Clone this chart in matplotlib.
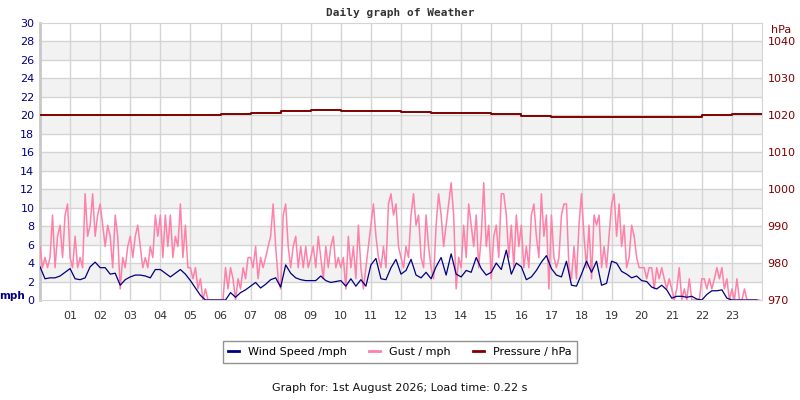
import numpy as np
import matplotlib
matplotlib.use('Agg')
import matplotlib.pyplot as plt
from matplotlib.lines import Line2D

# 10-minute wind speed (mph), one row per hour
wind_speed = [
    3.6, 2.3, 2.4, 2.4, 2.6, 3.0,
    3.4, 2.3, 2.2, 2.4, 3.6, 4.1,
    3.5, 3.5, 2.8, 2.9, 1.6, 2.2,
    2.5, 2.7, 2.7, 2.6, 2.4, 3.3,
    3.3, 2.9, 2.5, 2.9, 3.3, 2.8,
    2.1, 1.3, 0.5, 0.0, 0.0, 0.0,
    0.0, 0.0, 0.8, 0.3, 0.8, 1.1,
    1.5, 1.9, 1.3, 1.7, 2.2, 2.4,
    1.4, 3.8, 2.9, 2.4, 2.2, 2.1,
    2.1, 2.1, 2.6, 2.1, 1.9, 2.0,
    2.1, 1.5, 2.3, 1.5, 2.2, 1.5,
    3.8, 4.5, 2.3, 2.2, 3.5, 4.4,
    2.8, 3.2, 4.4, 2.7, 2.4, 3.0,
    2.3, 3.6, 4.6, 2.7, 5.0, 2.8,
    2.5, 3.2, 3.0, 4.6, 3.4, 2.7,
    3.0, 4.0, 3.3, 5.4, 2.8, 4.0,
    3.6, 2.2, 2.5, 3.2, 4.1, 4.8,
    3.4, 2.7, 2.5, 4.2, 1.6, 1.5,
    2.8, 4.2, 3.0, 4.2, 1.6, 1.8,
    4.2, 4.0, 3.1, 2.8, 2.4, 2.6,
    2.1, 2.0, 1.4, 1.2, 1.6, 1.1,
    0.2, 0.4, 0.4, 0.3, 0.4, 0.1,
    0.0, 0.6, 1.0, 1.0, 1.1, 0.2,
    0.0, 0.0, 0.0, 0.0, 0.0, 0.0,
]

# 5-minute gust (mph), one row per hour
gust = [
    5.8, 3.5, 4.6, 3.5, 4.6, 9.2, 3.5, 6.9, 8.1, 4.6, 9.2, 10.4,
    4.6, 3.5, 6.9, 3.5, 4.6, 3.5, 11.5, 6.9, 8.1, 11.5, 6.9, 9.2,
    10.4, 8.1, 5.8, 8.1, 6.9, 3.5, 9.2, 6.9, 1.2, 4.6, 3.5, 5.8,
    6.9, 4.6, 6.9, 8.1, 5.8, 3.5, 4.6, 3.5, 5.8, 4.6, 9.2, 6.9,
    9.2, 4.6, 9.2, 5.8, 9.2, 4.6, 6.9, 5.8, 10.4, 4.6, 8.1, 3.5,
    3.5, 2.3, 3.5, 1.2, 2.3, 0.0, 1.2, 0.0, 0.0, 0.0, 0.0, 0.0,
    0.0, 0.0, 3.5, 1.2, 3.5, 2.3, 0.0, 2.3, 1.2, 3.5, 2.3, 4.6,
    4.6, 3.5, 5.8, 2.3, 4.6, 3.5, 4.6, 5.8, 6.9, 10.4, 5.8, 2.3,
    1.2, 9.2, 10.4, 5.8, 3.5, 5.8, 6.9, 3.5, 5.8, 3.5, 5.8, 3.5,
    4.6, 5.8, 3.5, 6.9, 4.6, 2.3, 5.8, 3.5, 5.8, 6.9, 3.5, 4.6,
    3.5, 4.6, 1.2, 6.9, 3.5, 5.8, 2.3, 8.1, 3.5, 1.2, 3.5, 5.8,
    8.1, 10.4, 6.9, 4.6, 3.5, 5.8, 3.5, 10.4, 11.5, 9.2, 10.4, 5.8,
    4.6, 3.5, 5.8, 4.6, 9.2, 11.5, 8.1, 9.2, 4.6, 3.5, 9.2, 5.8,
    3.5, 2.3, 8.1, 11.5, 9.2, 5.8, 8.1, 10.4, 12.7, 9.2, 1.2, 4.6,
    3.5, 8.1, 4.6, 10.4, 8.1, 5.8, 9.2, 3.5, 6.9, 12.7, 5.8, 8.1,
    2.3, 6.9, 8.1, 4.6, 11.5, 11.5, 9.2, 4.6, 8.1, 3.5, 9.2, 5.8,
    8.1, 3.5, 5.8, 3.5, 9.2, 10.4, 6.9, 4.6, 11.5, 6.9, 9.2, 1.2,
    9.2, 4.6, 3.5, 4.6, 9.2, 10.4, 10.4, 3.5, 2.3, 5.8, 2.3, 8.1,
    11.5, 6.9, 3.5, 8.1, 2.3, 9.2, 8.1, 9.2, 3.5, 5.8, 3.5, 6.9,
    10.4, 11.5, 6.9, 10.4, 5.8, 8.1, 3.5, 4.6, 8.1, 6.9, 4.6, 3.5,
    3.5, 3.5, 2.3, 3.5, 3.5, 1.2, 3.5, 2.3, 3.5, 2.3, 1.2, 2.3,
    1.2, 0.0, 1.2, 3.5, 0.0, 1.2, 0.0, 2.3, 0.0, 0.0, 0.0, 0.0,
    2.3, 2.3, 1.2, 2.3, 1.2, 2.3, 3.5, 2.3, 3.5, 1.2, 2.3, 0.0,
    1.2, 0.0, 2.3, 0.0, 0.0, 1.2, 0.0, 0.0, 0.0, 0.0, 0.0, 0.0,
]

# hourly pressure (hPa), last value repeated to close the day
pressure = [1020.2, 1020.2, 1020.2, 1020.2, 1020.2, 1020.1, 1020.3, 1020.7,
            1021.3, 1021.4, 1021.3, 1021.1, 1021.0, 1020.7, 1020.6, 1020.3,
            1019.9, 1019.6, 1019.5, 1019.5, 1019.5, 1019.5, 1020.1, 1020.4,
            1020.4]

hour_labels = ['%02d' % h for h in range(1, 24)]
mph_ticks = list(range(0, 31, 2))
hpa_ticks = list(range(970, 1041, 10))

NAVY = '#000080'
PINK = '#ff80a8'
DARKRED = '#800000'
GRID = '#d4d4d4'

wind_t = np.arange(len(wind_speed)) / 6.0
gust_t = np.arange(len(gust)) / 12.0
pres_t = np.arange(len(pressure))

fig = plt.figure(figsize=(8, 4), dpi=100)
ax = fig.add_axes([40 / 800, 1 - 300 / 400, 722 / 800, 277 / 400])

# alternating grey bands every other 2 mph
for lo in range(2, 30, 4):
    ax.axhspan(lo, lo + 2, color='#f2f2f2', zorder=0, lw=0)
for y in mph_ticks[1:-1]:
    ax.axhline(y, color=GRID, lw=1, zorder=1)
for h in range(1, 24):
    ax.axvline(h, color=GRID, lw=1, zorder=1)

ax.plot(gust_t, gust, color=PINK, lw=1.1, zorder=3)
ax.plot(wind_t, wind_speed, color=NAVY, lw=0.9, zorder=4)

ax.set_xlim(0, 24)
ax.set_ylim(0, 30)
ax.set_yticks(mph_ticks)
ax.set_xticks(range(1, 24))
ax.set_xticklabels(hour_labels)
ax.tick_params(axis='y', length=0, labelsize=8, labelcolor=NAVY, pad=4)
ax.tick_params(axis='x', length=0, labelsize=8, labelcolor='#333333', pad=8)
for s in ['top', 'right', 'bottom']:
    ax.spines[s].set_color(GRID)
ax.spines['left'].set_color('#c8c8c8')
ax.spines['left'].set_linewidth(2)

ax2 = ax.twinx()
ax2.step(pres_t, pressure, where='post', color=DARKRED, lw=1.4, zorder=5)
ax2.set_ylim(970, 1045)
ax2.set_yticks(hpa_ticks)
ax2.tick_params(axis='y', length=0, labelsize=8, labelcolor=DARKRED, pad=4)
for s in ax2.spines.values():
    s.set_visible(False)

fig.text(400 / 800, 1 - 13 / 400, 'Daily graph of Weather', ha='center', va='center',
         family='DejaVu Sans Mono', weight='bold', fontsize=8, color='#333333')
fig.text(12 / 800, 1 - 296 / 400, 'mph', ha='center', va='center',
         weight='bold', fontsize=7.5, color=NAVY)
fig.text(781 / 800, 1 - 30 / 400, 'hPa', ha='center', va='center',
         fontsize=8, color=DARKRED)

handles = [Line2D([], [], color=NAVY, lw=2),
           Line2D([], [], color=PINK, lw=2),
           Line2D([], [], color=DARKRED, lw=2)]
leg = fig.legend(handles, ['Wind Speed /mph', 'Gust / mph', 'Pressure / hPa'],
                 loc='center', bbox_to_anchor=(400 / 800, 1 - 352 / 400), ncol=3,
                 fontsize=8, frameon=True, fancybox=False, handlelength=1.0,
                 columnspacing=2.0, borderpad=0.5)
leg.get_frame().set_edgecolor('#777777')
leg.get_frame().set_linewidth(1)

fig.text(400 / 800, 1 - 388 / 400, 'Graph for: 1st August 2026; Load time: 0.22 s',
         ha='center', va='center', fontsize=8, color='#111111')

fig.savefig('out.png', dpi=100)
